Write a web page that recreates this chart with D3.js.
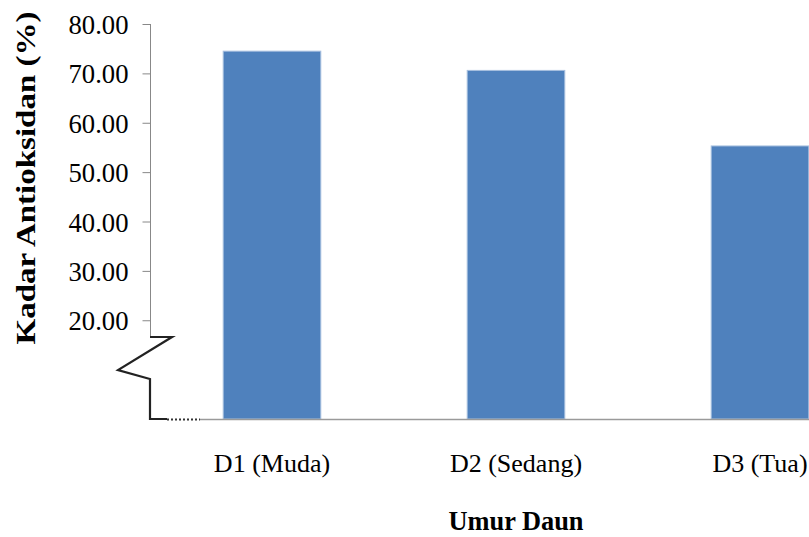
<!DOCTYPE html>
<html>
<head>
<meta charset="utf-8">
<script src="https://cdn.jsdelivr.net/npm/d3@7"></script>
<style>
  html, body { margin: 0; padding: 0; background: #fff; overflow: hidden; }
  svg { display: block; }
  text { font-family: "Liberation Serif", "Times New Roman", serif; fill: #000; }
</style>
</head>
<body>
<svg id="chart" width="809" height="537"></svg>
<script>
// Leaf age groups and their antioxidant content (%)
const categories = ["D1 (Muda)", "D2 (Sedang)", "D3 (Tua)"];
const values = [74.5, 70.6, 55.3];
const tickValues = [20, 30, 40, 50, 60, 70, 80];
const yTitle = "Kadar Antioksidan (%)";
const xTitle = "Umur Daun";

const svg = d3.select("#chart");

const y = d3.scaleLinear().domain([0, 80]).range([419, 24]);
const x = d3.scaleBand().domain(categories).range([150, 882])
  .paddingInner(0.6).paddingOuter(0.3);

// bars
svg.append("g").selectAll("rect")
  .data(values)
  .join("rect")
  .attr("x", (d, i) => x(categories[i]))
  .attr("y", d => y(d))
  .attr("width", x.bandwidth())
  .attr("height", d => y(0) - y(d))
  .attr("fill", "#4f81bd")
  .attr("stroke", "#a7bfdf")
  .attr("stroke-width", 1);

// baseline to the right of the break
svg.append("line")
  .attr("x1", 200).attr("x2", 809)
  .attr("y1", y(0) + 0.5).attr("y2", y(0) + 0.5)
  .attr("stroke", "#9a9a9a").attr("stroke-width", 1.5);

// y axis with ticks
const yAxis = d3.axisLeft(y)
  .tickValues(tickValues)
  .tickFormat(d3.format(".2f"))
  .tickSize(8)
  .tickPadding(14);

const gy = svg.append("g").attr("transform", "translate(150.5,0)").call(yAxis);
gy.select(".domain").remove();
gy.selectAll(".tick line").attr("stroke", "#888").attr("stroke-width", 1);
gy.selectAll(".tick text")
  .style("font-size", "28px")
  .attr("textLength", 60)
  .attr("lengthAdjust", "spacingAndGlyphs")
  .attr("dy", "0.34em");

// axis line above the break
const breakTop = y(0) - 82;
svg.append("line")
  .attr("x1", 150.5).attr("x2", 150.5)
  .attr("y1", y(80)).attr("y2", breakTop)
  .attr("stroke", "#888").attr("stroke-width", 1);

// zig-zag break symbol and its lower stub
svg.append("path")
  .attr("d", `M150,${breakTop} L172,${breakTop} L118,${breakTop + 33} L150,${breakTop + 42} L150,${y(0)} L167,${y(0)}`)
  .attr("fill", "none")
  .attr("stroke", "#222")
  .attr("stroke-width", 2.2)
  .attr("stroke-linejoin", "miter");

svg.append("line")
  .attr("x1", 167).attr("x2", 200)
  .attr("y1", y(0) + 0.5).attr("y2", y(0) + 0.5)
  .attr("stroke", "#333").attr("stroke-width", 2)
  .attr("stroke-dasharray", "2,2");

// category labels
svg.append("g").selectAll("text")
  .data(categories)
  .join("text")
  .attr("x", d => x(d) + x.bandwidth() / 2)
  .attr("y", 472)
  .attr("text-anchor", "middle")
  .style("font-size", "26px")
  .text(d => d);

// axis titles
svg.append("text")
  .attr("x", 516)
  .attr("y", 530)
  .attr("text-anchor", "middle")
  .style("font-size", "27px")
  .style("font-weight", "bold")
  .attr("textLength", 135)
  .attr("lengthAdjust", "spacingAndGlyphs")
  .text(xTitle);

svg.append("text")
  .attr("transform", "translate(35,178) rotate(-90)")
  .attr("text-anchor", "middle")
  .style("font-size", "28px")
  .style("font-weight", "bold")
  .attr("textLength", 333)
  .attr("lengthAdjust", "spacingAndGlyphs")
  .text(yTitle);
</script>
</body>
</html>
